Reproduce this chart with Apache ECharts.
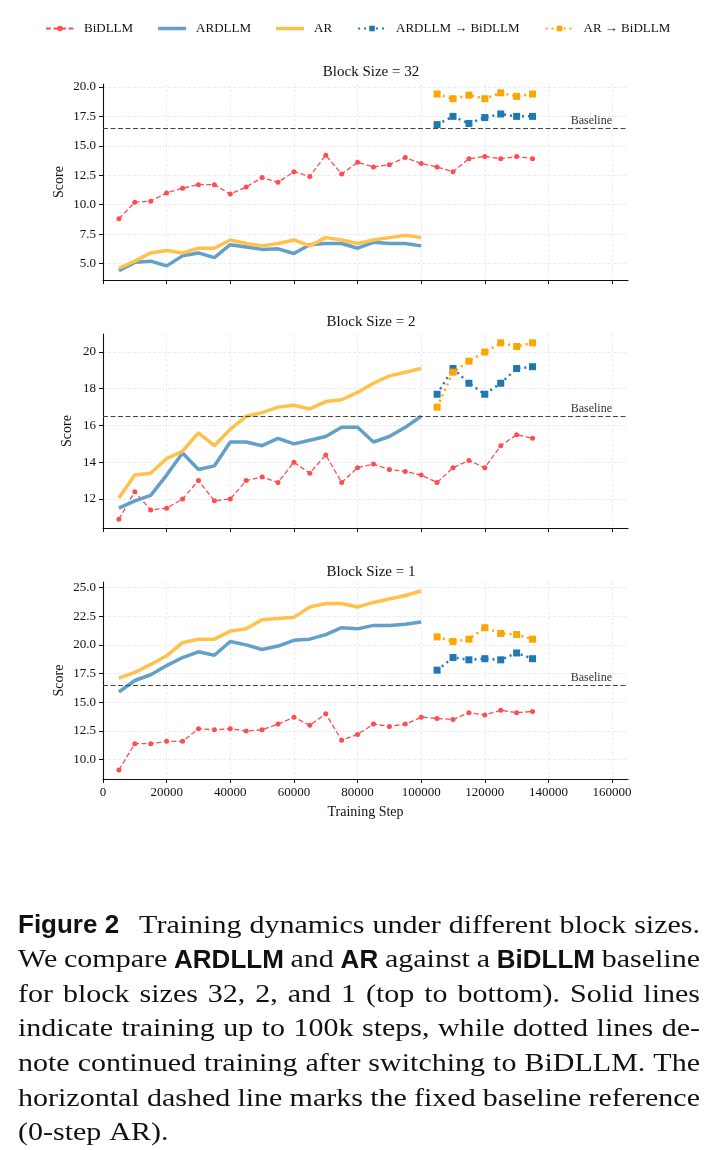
<!DOCTYPE html>
<html><head><meta charset="utf-8">
<script src="https://cdn.jsdelivr.net/npm/echarts@6/dist/echarts.min.js"></script>
<style>html,body{margin:0;padding:0;background:#fff}#c{width:717px;height:1150px}</style>
</head><body><div id="c"></div>
<script>
// ---------------- data ----------------
const stepsMain = [5000,10000,15000,20000,25000,30000,35000,40000,45000,50000,55000,60000,65000,70000,75000,80000,85000,90000,95000,100000];
const stepsAll = [5000,10000,15000,20000,25000,30000,35000,40000,45000,50000,55000,60000,65000,70000,75000,80000,85000,90000,95000,100000,105000,110000,115000,120000,125000,130000,135000];
const stepsCont = [105000,110000,115000,120000,125000,130000,135000];

// Block Size = 32
const b32_bidllm = [8.8,10.2,10.3,11.0,11.4,11.7,11.7,10.9,11.5,12.3,11.9,12.8,12.4,14.2,12.6,13.6,13.2,13.4,14.0,13.5,13.2,12.8,13.9,14.1,13.9,14.1,13.9];
const b32_ardllm = [4.4,5.1,5.2,4.8,5.65,5.9,5.5,6.6,6.4,6.2,6.25,5.85,6.6,6.7,6.7,6.3,6.8,6.7,6.7,6.5];
const b32_ar = [4.6,5.2,5.9,6.1,5.9,6.3,6.3,7.0,6.7,6.5,6.7,7.0,6.5,7.2,7.0,6.7,7.0,7.2,7.4,7.2];
const b32_ardllm2bi = [16.8,17.5,16.9,17.4,17.7,17.5,17.5];
const b32_ar2bi = [19.4,19.0,19.3,19.0,19.5,19.2,19.4];

// Block Size = 2
const b2_bidllm = [10.9,12.4,11.4,11.5,12.0,13.0,11.9,12.0,13.0,13.2,12.9,14.0,13.4,14.4,12.9,13.7,13.9,13.6,13.5,13.3,12.9,13.7,14.1,13.7,14.9,15.5,15.3];
const b2_ardllm = [11.5,11.9,12.2,13.3,14.5,13.6,13.8,15.1,15.1,14.9,15.3,15.0,15.2,15.4,15.9,15.9,15.1,15.4,15.9,16.5];
const b2_ar = [12.05,13.3,13.4,14.2,14.6,15.6,14.9,15.8,16.5,16.7,17.0,17.1,16.9,17.3,17.4,17.8,18.3,18.7,18.9,19.1];
const b2_ardllm2bi = [17.7,19.1,18.3,17.7,18.3,19.1,19.2];
const b2_ar2bi = [17.0,18.9,19.5,20.0,20.5,20.3,20.5];

// Block Size = 1
const b1_bidllm = [9.1,11.4,11.4,11.6,11.6,12.7,12.6,12.7,12.5,12.6,13.1,13.7,13.0,14.0,11.7,12.2,13.1,12.9,13.1,13.7,13.6,13.5,14.1,13.9,14.3,14.1,14.2];
const b1_ardllm = [15.9,16.9,17.4,18.2,18.9,19.4,19.1,20.3,20.0,19.6,19.9,20.4,20.5,20.9,21.5,21.4,21.7,21.7,21.8,22.0];
const b1_ar = [17.1,17.6,18.3,19.05,20.2,20.5,20.5,21.2,21.4,22.2,22.3,22.4,23.3,23.6,23.6,23.3,23.7,24.0,24.3,24.7];
const b1_ardllm2bi = [17.8,18.9,18.7,18.8,18.7,19.3,18.8];
const b1_ar2bi = [20.7,20.3,20.5,21.5,21.0,20.9,20.5];

const baselineValue = 16.5;
const baselineLabel = 'Baseline';
const xTicks = [0,20000,40000,60000,80000,100000,120000,140000,160000];
const yTicks32 = [5,7.5,10,12.5,15,17.5,20];
const yTicks2 = [12,14,16,18,20];
const yTicks1 = [10,12.5,15,17.5,20,22.5,25];
const panelTitles = ['Block Size = 32','Block Size = 2','Block Size = 1'];
const seriesNames = ['BiDLLM','ARDLLM','AR','ARDLLM \u2192 BiDLLM','AR \u2192 BiDLLM'];
const xName = 'Training Step';
const yName = 'Score';

const captionLines = [
  '**Figure 2**|Training dynamics under different block sizes.',
  'We compare **ARDLLM** and **AR** against a **BiDLLM** baseline',
  'for block sizes 32, 2, and 1 (top to bottom). Solid lines',
  'indicate training up to 100k steps, while dotted lines de-',
  'note continued training after switching to BiDLLM. The',
  'horizontal dashed line marks the fixed baseline reference',
  '(0-step AR).'
];

// ---------------- layout / style ----------------
const SERIF = '"Liberation Serif", "Times New Roman", serif';
const panels = [
  {data:[b32_bidllm,b32_ardllm,b32_ar,b32_ardllm2bi,b32_ar2bi], ticks:yTicks32, min:3.6, max:20.25, top:84, height:196, dec:1, nameGap:37, titleY:60},
  {data:[b2_bidllm,b2_ardllm,b2_ar,b2_ardllm2bi,b2_ar2bi], ticks:yTicks2, min:10.42, max:20.98, top:334, height:194, dec:0, nameGap:29, titleY:310},
  {data:[b1_bidllm,b1_ardllm,b1_ar,b1_ardllm2bi,b1_ar2bi], ticks:yTicks1, min:8.32, max:25.48, top:582, height:197, dec:1, nameGap:37, titleY:560}
];
const xSets = [stepsAll, stepsMain, stepsMain, stepsCont, stepsCont];
const colors = ['#ff4c4c','#62a0ca','#ffc04c','#1f77b4','#ffa500'];

function pairs(xs, ys){ return xs.map((x,i)=>[x, ys[i]]); }

const grids=[], xAxes=[], yAxes=[], series=[], titles=[];
panels.forEach((p,gi)=>{
  grids.push({left:103, width:525, top:p.top, height:p.height, containLabel:false});
  titles.push({text:panelTitles[gi], left:366, top:p.titleY, textAlign:'center',
    textStyle:{fontFamily:SERIF, fontSize:15, fontWeight:'normal', color:'#111'}});
  const last = gi===2;
  xAxes.push({type:'value', gridIndex:gi, min:0, max:165000,
    name: last ? xName : '', nameLocation:'middle', nameGap:26, nameMoveOverlap:false,
    nameTextStyle:{fontFamily:SERIF, fontSize:14, color:'#111'},
    axisLine:{show:true, onZero:false, lineStyle:{color:'#111', width:1.1}},
    axisTick:{show:true, length:4, customValues:xTicks, lineStyle:{color:'#111'}},
    axisLabel:{show:last, customValues:xTicks, margin:7, fontFamily:SERIF, fontSize:13, color:'#111', formatter:v=>String(v)},
    splitLine:{show:true, lineStyle:{color:'#e6e6e6', type:[3,2], width:0.8}}
  });
  yAxes.push({type:'value', gridIndex:gi, min:p.min, max:p.max,
    name:yName, nameLocation:'middle', nameGap:p.nameGap, nameMoveOverlap:false,
    nameTextStyle:{fontFamily:SERIF, fontSize:14, color:'#111'},
    axisLine:{show:true, lineStyle:{color:'#111', width:1.1}},
    axisTick:{show:true, length:4, customValues:p.ticks, lineStyle:{color:'#111'}},
    axisLabel:{customValues:p.ticks, margin:7, fontFamily:SERIF, fontSize:13, color:'#111', formatter:v=>v.toFixed(p.dec)},
    splitLine:{show:true, lineStyle:{color:'#e6e6e6', type:[3,2], width:0.8}}
  });
  p.data.forEach((ys,si)=>{
    const s = {name:seriesNames[si], type:'line', xAxisIndex:gi, yAxisIndex:gi,
      data:pairs(xSets[si], ys), color:colors[si], silent:true};
    if(si===0){
      Object.assign(s,{symbol:'circle', symbolSize:5, lineStyle:{width:1.3, type:[5,2.5], color:colors[0]},
        itemStyle:{color:colors[0]}, z:2,
        markLine:{symbol:'none', silent:true, animation:false, data:[{yAxis:baselineValue}],
          lineStyle:{color:'#444', type:[5,2.5], width:1.2},
          label:{show:true, formatter:baselineLabel, position:'insideEndTop', distance:[16,1],
            fontFamily:SERIF, fontSize:12, color:'#333'}}});
    } else if(si<3){
      Object.assign(s,{symbol:'none', showSymbol:false, lineStyle:{width:3.5, color:colors[si]}, z:3});
    } else {
      Object.assign(s,{symbol:'rect', symbolSize:7, lineStyle:{width:2.5, type:[2,4], color:colors[si]},
        itemStyle:{color:colors[si]}, z:4});
    }
    series.push(s);
  });
});

// ---------------- caption (justified word placement) ----------------
const measureCtx = document.createElement('canvas').getContext('2d');
const capSerif = '25px ' + SERIF;
const capBold = 'bold 26px "Liberation Sans", Arial, sans-serif';
function tw(text, font){ measureCtx.font = font; return measureCtx.measureText(text).width; }
const capLeft = 18, capRight = 700, capTop = 926, capStep = 34.6, natSpace = 8;
const parsed = captionLines.map(line=>{
  let extraFirst = 0, raw = line;
  if(raw.indexOf('|')>=0){ raw = raw.replace('|',' '); extraFirst = 12; }
  const toks = [];
  const re = /\*\*(.+?)\*\*|(\S+)/g; let m;
  while((m = re.exec(raw))){
    if(m[1]!==undefined) toks.push({t:m[1], font:capBold, bold:true});
    else toks.push({t:m[2], font:capSerif, bold:false});
  }
  toks.forEach(t=>t.w = tw(t.t, t.font));
  return {toks, extraFirst};
});
// horizontal stretch of serif glyphs so the font's width matches the original face
const ratios = [];
parsed.slice(0, parsed.length-1).forEach(L=>{
  const boldW = L.toks.filter(t=>t.bold).reduce((a,t)=>a+t.w,0);
  const serW = L.toks.filter(t=>!t.bold).reduce((a,t)=>a+t.w,0);
  ratios.push((capRight-capLeft-L.extraFirst-boldW-(L.toks.length-1)*natSpace)/serW);
});
ratios.sort((a,b)=>a-b);
const sx = ratios[Math.floor(ratios.length/2)];
const graphics = [];
parsed.forEach((L, li)=>{
  L.toks.forEach(t=>{ t.sw = t.bold ? t.w : t.w*sx; t.sc = t.bold ? 1 : sx; });
  const total = L.toks.reduce((a,t)=>a+t.sw,0);
  const gaps = L.toks.length-1;
  const justify = li < parsed.length-1;
  const gap = justify ? (capRight-capLeft-total-L.extraFirst)/gaps : natSpace;
  let x = capLeft;
  const y = capTop + li*capStep;
  L.toks.forEach((t,ti)=>{
    graphics.push({type:'text', x:x, y:y, scaleX:t.sc, silent:true,
      style:{text:t.t, font:t.font, fill:'#111', align:'left', verticalAlign:'middle'}});
    x += t.sw + gap + (ti===0 ? L.extraFirst : 0);
  });
});

const lineIcon = 'path://M0 0H28V3.5H0Z';
const legendData = seriesNames.map((n,i)=> (i===1||i===2) ? {name:n, icon:lineIcon} : {name:n});

const option = {
  animation:false,
  backgroundColor:'#fff',
  title:titles,
  legend:{data:legendData, left:40, top:17, itemWidth:28, itemHeight:7, itemGap:25,
    textStyle:{fontFamily:SERIF, fontSize:13, color:'#111', padding:[0,0,0,5]}},
  grid:grids, xAxis:xAxes, yAxis:yAxes, series:series,
  graphic:graphics
};
const chart = echarts.init(document.getElementById('c'), null, {renderer:'canvas'});
chart.setOption(option);
</script>
</body></html>
